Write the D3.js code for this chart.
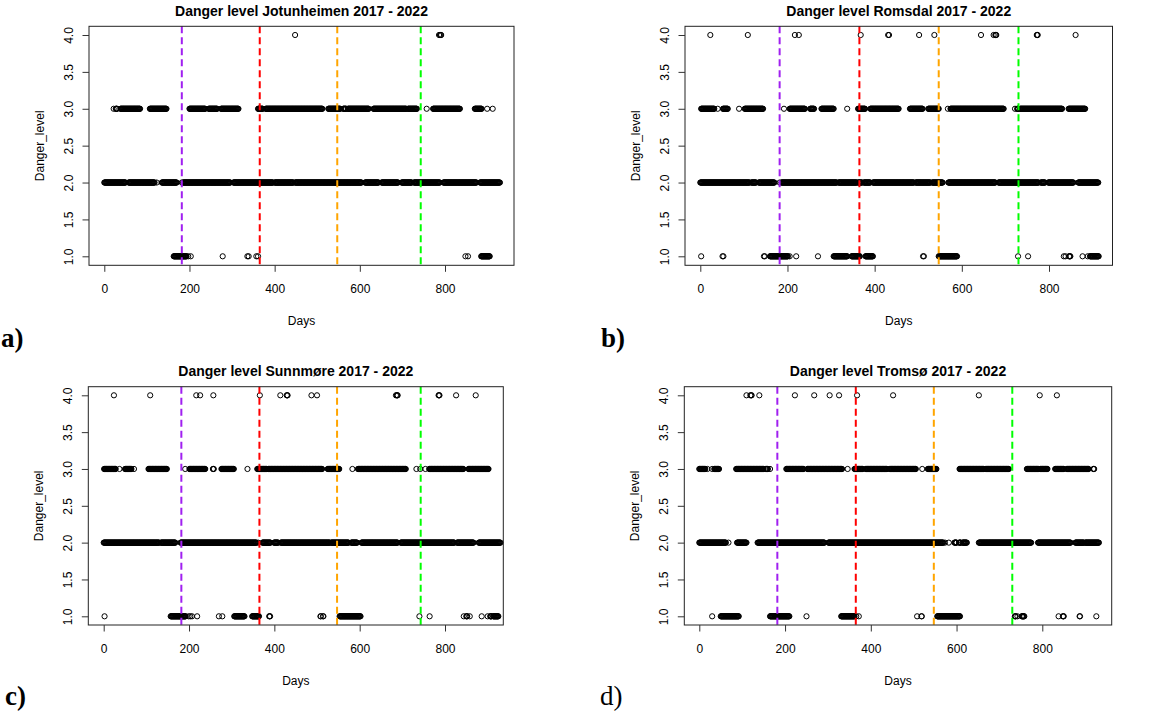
<!DOCTYPE html>
<html>
<head>
<meta charset="utf-8">
<script src="https://cdn.jsdelivr.net/npm/d3@7"></script>
<style>
  body { margin: 0; background: #fff; }
  svg { display: block; }
</style>
</head>
<body>
<div id="chart"></div>
<script>
// runs of consecutive days [first, last] at each danger level

var jotunheimen4 = [[448,448],[786,786],[788,788],[790,791]];
var jotunheimen3 = [[22,22],[27,30],[38,84],[107,146],[200,237],[245,265],[274,315],[361,372],[379,512],[526,554],[561,568],[572,621],[632,709],[713,734],[757,757],[772,835],[870,886],[899,899],[912,912]];
var jotunheimen2 = [[0,50],[57,118],[123,123],[135,170],[182,182],[185,296],[303,396],[400,444],[448,604],[612,644],[651,690],[698,722],[727,788],[796,874],[882,929]];
var jotunheimen1 = [[163,193],[197,197],[203,203],[278,278],[336,336],[339,339],[357,357],[361,361],[848,848],[854,854],[885,905]];

var romsdal4 = [[23,23],[109,109],[217,217],[226,226],[368,368],[431,431],[433,433],[502,502],[537,537],[644,644],[673,673],[677,679],[772,774],[861,861]];
var romsdal3 = [[2,32],[40,40],[52,63],[89,89],[102,144],[192,192],[205,240],[252,261],[278,306],[337,337],[362,378],[390,455],[481,510],[523,547],[568,568],[574,696],[722,722],[727,730],[734,830],[845,883]];
var romsdal2 = [[0,113],[117,128],[134,170],[182,182],[186,313],[317,359],[362,371],[375,390],[396,490],[494,528],[532,556],[569,677],[684,776],[781,791],[798,856],[867,913]];
var romsdal1 = [[2,2],[51,51],[53,53],[146,146],[148,148],[160,201],[205,205],[220,220],[270,270],[306,337],[347,366],[379,396],[511,511],[513,513],[547,589],[729,729],[752,752],[834,834],[838,838],[846,849],[877,877],[889,889],[894,914]];

var sunnmore4 = [[24,24],[109,109],[217,217],[226,226],[257,257],[366,366],[414,414],[429,431],[487,487],[500,500],[685,685],[687,689],[785,787],[826,826],[872,872]];
var sunnmore3 = [[1,28],[37,37],[50,65],[71,71],[105,148],[191,191],[201,238],[256,258],[276,305],[337,337],[360,382],[386,512],[525,552],[583,583],[596,708],[733,733],[742,742],[754,754],[763,843],[855,902]];
var sunnmore2 = [[0,130],[134,168],[180,358],[362,362],[372,391],[399,409],[415,530],[533,574],[580,594],[604,689],[696,822],[828,867],[879,930]];
var sunnmore1 = [[2,2],[157,192],[199,199],[203,203],[207,207],[219,219],[270,270],[278,278],[306,330],[348,364],[388,390],[508,509],[514,515],[553,602],[740,740],[764,764],[844,844],[850,852],[858,858],[886,886],[900,900],[906,909],[913,925]];

var tromso4 = [[110,110],[119,119],[121,122],[140,140],[223,223],[268,268],[304,304],[326,326],[368,368],[452,452],[652,652],[794,794],[834,834]];
var tromso3 = [[0,14],[19,19],[30,30],[35,46],[86,150],[155,160],[165,165],[203,243],[252,333],[346,346],[362,381],[388,438],[444,505],[520,520],[533,553],[607,664],[668,722],[764,791],[795,812],[830,850],[857,908],[919,921]];
var tromso2 = [[0,62],[68,68],[88,110],[136,292],[301,569],[573,573],[582,582],[595,600],[606,610],[614,624],[652,774],[790,866],[877,897],[900,932]];
var tromso1 = [[30,30],[50,92],[165,210],[250,250],[331,362],[366,366],[372,372],[508,508],[518,519],[555,608],[736,738],[742,742],[752,758],[838,838],[848,850],[887,888],[926,926]];

var regions = ["Jotunheimen", "Romsdal", "Sunnmøre", "Tromsø"];
var tags = ["a)", "b)", "c)", "d)"];
var seasonDaysAC = [182, 365, 547, 743];
var seasonDaysBD = [182, 365, 547, 730];
var seasonColors = ["#a020f0", "#ff0000", "#ffa500", "#00ff00"];
var dayTicks = [0, 200, 400, 600, 800];
var levelTicks = [1, 1.5, 2, 2.5, 3, 3.5, 4];

var width = 1166, height = 713;
var sans = "'Liberation Sans', Arial, Helvetica, sans-serif";
var serif = "'Liberation Serif', 'Times New Roman', serif";

var svg = d3.select("#chart")
  .append("svg")
    .attr("width", width)
    .attr("height", height)
    .style("font-family", sans);

// layout of the four panels (pixel boxes, and where day 0 / day 800 fall)
var panels = [
  {runs: [jotunheimen1, jotunheimen2, jotunheimen3, jotunheimen4], lines: seasonDaysAC,
   box: [89, 26.3, 514, 265.3], xr: [104.3, 445], yr: [256.3, 35], tag: [1, 347], bold: true},
  {runs: [romsdal1, romsdal2, romsdal3, romsdal4], lines: seasonDaysBD,
   box: [685, 26.3, 1112.5, 265.3], xr: [700.3, 1049], yr: [256.3, 35], tag: [601, 347], bold: true},
  {runs: [sunnmore1, sunnmore2, sunnmore3, sunnmore4], lines: seasonDaysAC,
   box: [88.3, 386.7, 503.3, 625], xr: [103.7, 445], yr: [616.3, 395.3], tag: [5, 705], bold: true},
  {runs: [tromso1, tromso2, tromso3, tromso4], lines: seasonDaysBD,
   box: [684.3, 386.7, 1111.7, 625], xr: [699.3, 1042.3], yr: [616.3, 395.3], tag: [600, 705], bold: false}
];

panels.forEach(function(p, i) {
  var x = d3.scaleLinear().domain([0, 800]).range(p.xr);
  var y = d3.scaleLinear().domain([1, 4]).range(p.yr);
  var bx0 = p.box[0], by0 = p.box[1], bx1 = p.box[2], by1 = p.box[3];
  var cx = (bx0 + bx1) / 2, cy = (by0 + by1) / 2;

  var g = svg.append("g");

  // points
  var pts = [];
  p.runs.forEach(function(runs, li) {
    runs.forEach(function(r) {
      d3.range(r[0], r[1] + 1).forEach(function(d) { pts.push({day: d, level: li + 1}); });
    });
  });
  g.append("g")
    .selectAll("circle")
    .data(pts)
    .enter()
    .append("circle")
      .attr("cx", function(d) { return x(d.day); })
      .attr("cy", function(d) { return y(d.level); })
      .attr("r", 2.6)
      .attr("fill", "none")
      .attr("stroke", "#000")
      .attr("stroke-width", 1);

  // season lines
  g.append("g")
    .selectAll("line")
    .data(p.lines)
    .enter()
    .append("line")
      .attr("x1", function(d) { return x(d); })
      .attr("x2", function(d) { return x(d); })
      .attr("y1", by0)
      .attr("y2", by1)
      .attr("stroke", function(d, j) { return seasonColors[j]; })
      .attr("stroke-width", 2)
      .attr("stroke-dasharray", "7,4");

  // box
  g.append("rect")
    .attr("x", bx0).attr("y", by0)
    .attr("width", bx1 - bx0).attr("height", by1 - by0)
    .attr("fill", "none")
    .attr("stroke", "#222")
    .attr("stroke-width", 1);

  // x axis
  var ax = g.append("g")
    .attr("transform", "translate(0," + by1 + ")")
    .call(d3.axisBottom(x).tickValues(dayTicks).tickSize(6.5).tickPadding(13));
  ax.select(".domain").remove();
  ax.selectAll(".tick line").attr("stroke", "#333");
  ax.selectAll(".tick text")
    .style("font-size", "12px")
    .style("font-family", sans)
    .attr("fill", "#000");

  // y axis
  var ay = g.append("g")
    .attr("transform", "translate(" + bx0 + ",0)")
    .call(d3.axisLeft(y).tickValues(levelTicks).tickFormat(d3.format(".1f")).tickSize(6.5));
  ay.select(".domain").remove();
  ay.selectAll(".tick line").attr("stroke", "#333");
  ay.selectAll(".tick text")
    .attr("x", null).attr("dy", null)
    .attr("transform", "translate(-16.4,0) rotate(-90)")
    .attr("text-anchor", "middle")
    .style("font-size", "12px")
    .style("font-family", sans)
    .attr("fill", "#000");

  // titles and labels
  g.append("text")
    .attr("x", cx).attr("y", by0 - 10.5)
    .attr("text-anchor", "middle")
    .style("font-size", "14px")
    .style("font-weight", "bold")
    .text("Danger level " + regions[i] + " 2017 - 2022");

  g.append("text")
    .attr("x", cx).attr("y", by1 + 59.5)
    .attr("text-anchor", "middle")
    .style("font-size", "12px")
    .text("Days");

  g.append("text")
    .attr("transform", "translate(" + (bx0 - 45.4) + "," + cy + ") rotate(-90)")
    .attr("text-anchor", "middle")
    .style("font-size", "12px")
    .text("Danger_level");

  g.append("text")
    .attr("x", p.tag[0]).attr("y", p.tag[1])
    .style("font-family", serif)
    .style("font-size", "27px")
    .style("font-weight", p.bold ? "bold" : "normal")
    .text(tags[i]);
});
</script>
</body>
</html>
